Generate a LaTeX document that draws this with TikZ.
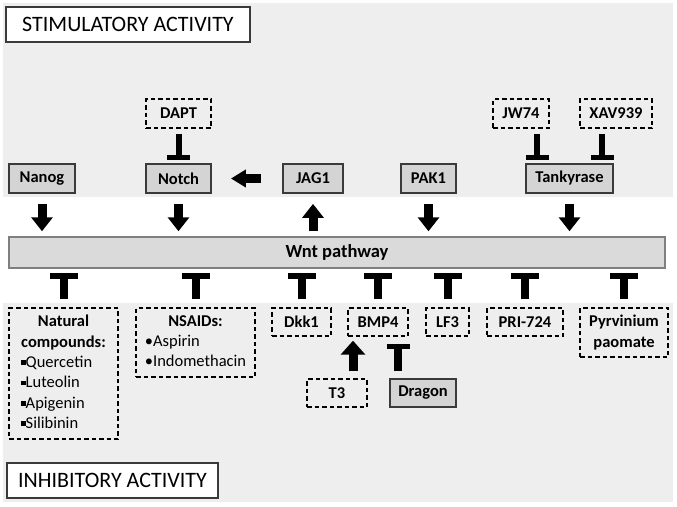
\documentclass[tikz,border=0pt]{standalone}
\usepackage{fontspec}
\setmainfont{Carlito}
\usetikzlibrary{arrows.meta}
\definecolor{bgc}{HTML}{EEEEEE}
\definecolor{nodec}{HTML}{D4D4D4}
\definecolor{edgec}{HTML}{3A3A3A}
\definecolor{wntfill}{HTML}{DADADA}
\definecolor{wntedge}{HTML}{7F7F7F}
\newcommand{\sqbul}{\raisebox{2.5pt}{\rule{4.5pt}{4.5pt}}}
\begin{document}
\begin{tikzpicture}[x=1pt,y=-1pt,
 lbl/.style={font=\fontsize{16.5}{20.3}\selectfont\bfseries},
 solidbox/.style={draw=edgec, line width=1.8pt, fill=nodec, minimum height=29pt, inner sep=0pt, lbl},
 dashbox/.style={draw=black, line width=1.4pt, dash pattern=on 4.5pt off 3pt, minimum height=28pt, inner sep=0pt, lbl},
 titlebox/.style={draw=edgec, line width=1.5pt, fill=white, minimum height=35pt, inner sep=0pt, font=\fontsize{22}{26}\selectfont},
 blockarrow/.style={line width=9pt, -{Triangle[width=21pt,length=14pt]}},
 inhibit/.style={line width=8pt, -{Bar[width=28pt,line width=6pt]}},
 smallinhibit/.style={line width=6pt, -{Bar[width=23pt,line width=5pt]}},
]
\useasboundingbox (0,0) rectangle (677,506);
\fill[bgc] (3,3) rectangle (673,197);
\fill[bgc] (3,303) rectangle (673,502);

% titles
\node[titlebox, minimum width=244pt] (stim) at (128,24.5) {STIMULATORY ACTIVITY\hspace{6pt}};
\node[titlebox, minimum width=211pt] (inhib) at (112.5,480.5) {INHIBITORY ACTIVITY\hspace{4pt}};

% top row
\node[solidbox, minimum width=66pt] (nanog) at (42,178.5) {Nanog};
\node[solidbox, minimum width=65pt] (notch) at (178.5,178.5) {Notch};
\node[solidbox, minimum width=60pt] (jag) at (313,178.5) {JAG1};
\node[solidbox, minimum width=55pt] (pak) at (428.5,178.5) {PAK1};
\node[solidbox, minimum width=87pt] (tank) at (569.5,178.5) {Tankyrase};
\node[dashbox, minimum width=65pt, minimum height=29pt] (dapt) at (178.5,113.5) {DAPT};
\node[dashbox, minimum width=56pt, minimum height=29pt] (jw) at (521,113.5) {JW74};
\node[dashbox, minimum width=72pt, minimum height=29pt] (xav) at (616,113.5) {XAV939};

% Wnt
\node[draw=wntedge, line width=1.5pt, fill=wntfill, minimum width=656pt, minimum height=31pt, inner sep=0pt, font=\fontsize{18.5}{22}\selectfont\bfseries] (wnt) at (337,252.5) {Wnt pathway};

% bottom row
\node[dashbox, minimum width=109pt, minimum height=131pt] (nat) at (63.5,373.5)
 {\begin{tabular}{@{}l@{}}\multicolumn{1}{@{}c@{}}{Natural}\\ \multicolumn{1}{@{}c@{}}{compounds:}\\
 \mdseries\sqbul Quercetin\\ \mdseries\sqbul Luteolin\\ \mdseries\sqbul Apigenin\\ \mdseries\sqbul Silibinin\end{tabular}};
\node[dashbox, minimum width=119pt, minimum height=69pt] (nsaid) at (195.5,342.5)
 {\begin{tabular}{@{}l@{}}\multicolumn{1}{@{}c@{}}{NSAIDs:}\\
 \mdseries\textbullet Aspirin\\ \mdseries\textbullet Indomethacin\end{tabular}};
\node[dashbox, minimum width=59pt] (dkk) at (301.5,322) {Dkk1};
\node[dashbox, minimum width=60pt] (bmp) at (378,322) {BMP4};
\node[dashbox, minimum width=43pt] (lf) at (447.5,322) {LF3};
\node[dashbox, minimum width=76pt] (pri) at (525,322) {PRI-724};
\node[dashbox, minimum width=88pt, minimum height=49pt, align=center] (pyr) at (624,332.5) {Pyrvinium\\paomate};
\node[dashbox, minimum width=60pt] (t3) at (337,393) {T3};
\node[solidbox, minimum width=66pt, minimum height=28pt] (dragon) at (423,393) {Dragon};

% stimulatory arrows into Wnt
\foreach \n in {nanog,notch,pak,tank}
  \draw[blockarrow, shorten <=10pt, shorten >=5pt] (\n.south) -- (\n.south |- wnt.north);
\draw[blockarrow, shorten <=5pt, shorten >=10pt] (jag.south |- wnt.north) -- (jag.south);
\draw[line width=9pt, -{Triangle[width=17pt,length=15pt]}, shorten <=21pt, shorten >=19pt] (jag.west) -- (notch.east);

% inhibitors on top
\draw[smallinhibit, shorten <=5pt, shorten >=3pt] (dapt.south) -- (notch.north);
\draw[smallinhibit, shorten <=5pt, shorten >=3pt] ([xshift=16pt]jw.south) -- ([xshift=16pt]jw.south |- tank.north);
\draw[smallinhibit, shorten <=5pt, shorten >=3pt] ([xshift=-14pt]xav.south) -- ([xshift=-14pt]xav.south |- tank.north);

% inhibitors of Wnt
\foreach \n in {nat,nsaid,dkk,bmp,lf,pri,pyr}
  \draw[inhibit, shorten <=8pt, shorten >=4pt] (\n.north) -- (\n.north |- wnt.south);

% T3 and Dragon on BMP4
\draw[blockarrow, -{Triangle[width=24pt,length=14pt]}, shorten <=7pt, shorten >=4pt] ([xshift=16pt]t3.north) -- ([xshift=16pt]t3.north |- bmp.south);
\draw[inhibit, -{Bar[width=23pt,line width=5pt]}, shorten <=7pt, shorten >=7pt] ([xshift=-25pt]dragon.north) -- ([xshift=-25pt]dragon.north |- bmp.south);
\end{tikzpicture}
\end{document}
